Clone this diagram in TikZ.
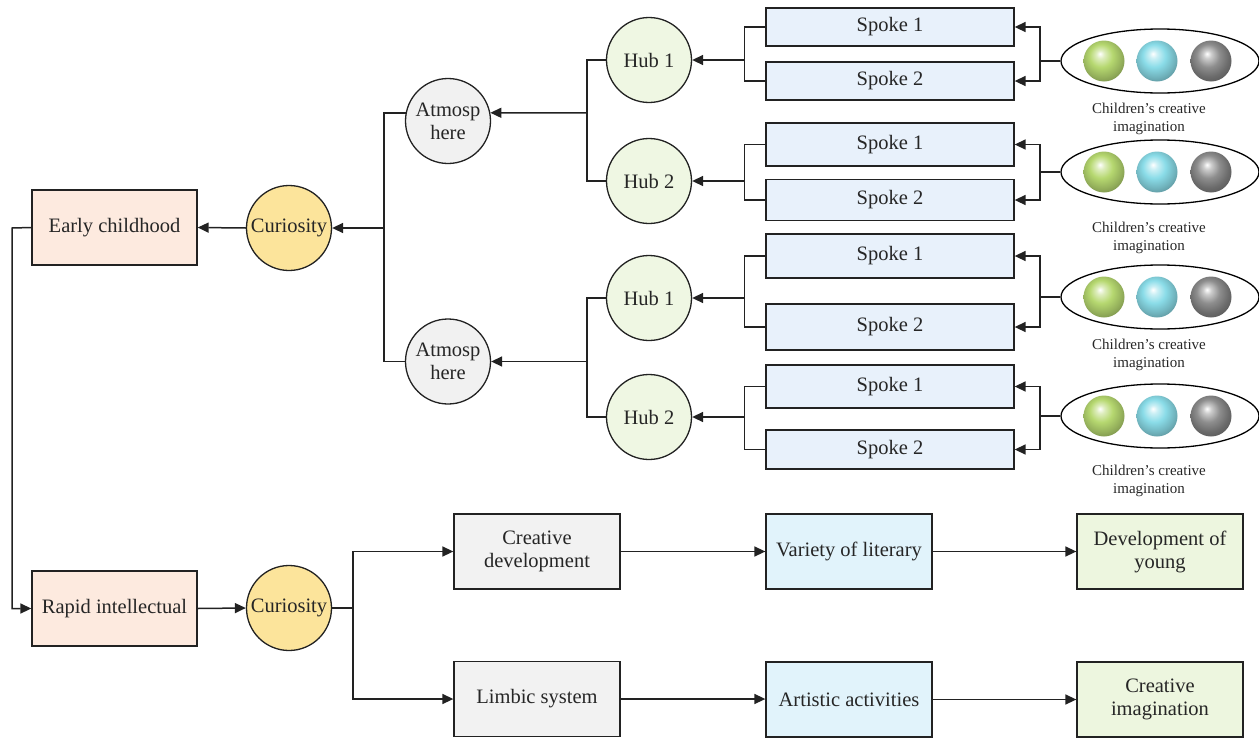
\documentclass[tikz,border=0pt]{standalone}
\usepackage{fontspec}
\setmainfont{Liberation Serif}
\usetikzlibrary{arrows.meta,shapes.geometric,calc}
\definecolor{peach}{HTML}{FDEADF}
\definecolor{curfill}{HTML}{FCE49B}
\definecolor{atmfill}{HTML}{F1F1F1}
\definecolor{hubfill}{HTML}{EFF7E3}
\definecolor{spokefill}{HTML}{E8F1FB}
\definecolor{grayfill}{HTML}{F2F2F2}
\definecolor{cyanfill}{HTML}{E1F3FB}
\definecolor{greenfill}{HTML}{EDF6DF}
\definecolor{linecol}{HTML}{222222}
\definecolor{ballg}{HTML}{B6D870}
\definecolor{ballc}{HTML}{8ADCE8}
\definecolor{ballk}{HTML}{8E8E8E}
\pgfdeclareradialshading{gball}{\pgfpoint{-5bp}{9bp}}{color(0bp)=(white);color(5bp)=(ballg!45!white);color(14bp)=(ballg);color(24bp)=(ballg!82!black);color(30bp)=(ballg!70!black);color(50bp)=(ballg!70!black)}
\pgfdeclareradialshading{cball}{\pgfpoint{-5bp}{9bp}}{color(0bp)=(white);color(5bp)=(ballc!45!white);color(14bp)=(ballc);color(24bp)=(ballc!82!black);color(30bp)=(ballc!70!black);color(50bp)=(ballc!70!black)}
\pgfdeclareradialshading{kball}{\pgfpoint{-5bp}{9bp}}{color(0bp)=(white);color(5bp)=(ballk!45!white);color(14bp)=(ballk);color(24bp)=(ballk!75!black);color(30bp)=(ballk!65!black);color(50bp)=(ballk!65!black)}
\begin{document}
\begin{tikzpicture}[x=1pt,y=-1pt,
  ln/.style={draw=linecol, line width=1.5pt},
  arr/.style={ln, -{Triangle[length=11pt,width=10pt]}},
  box/.style={draw=linecol, line width=1.3pt, rectangle, minimum width=165pt, minimum height=75pt, align=center, font=\fontsize{20.5}{23}\selectfont, inner sep=1pt, text=black!85},
  spoke/.style={box, minimum width=248pt, fill=spokefill},
  circ/.style={circle, draw=linecol, line width=1.3pt, minimum size=85pt, inner sep=0pt, align=center, font=\fontsize{20.5}{23}\selectfont, text=black!85},
  grp/.style={ellipse, draw=black, line width=1.3pt, minimum width=198pt, minimum height=64pt, inner sep=0pt},
  lab/.style={align=center, font=\fontsize{15}{18.5}\selectfont, text=black!85},
  ball/.style={circle, minimum size=41pt, inner sep=0pt, draw=none}
]
\useasboundingbox (0,0) rectangle (1259,739);

% upper tree
\node[box, fill=peach] (early) at (114.5,227.5) {Early childhood};
\node[circ, fill=curfill] (cur1) at (289,228) {Curiosity};
\node[circ, fill=atmfill] (atm1) at (448,121) {Atmosp\\here};
\node[circ, fill=atmfill] (atm2) at (448,361.5) {Atmosp\\here};
\node[circ, fill=hubfill] (h11) at (649,60) {Hub 1};
\node[circ, fill=hubfill] (h12) at (649,181) {Hub 2};
\node[circ, fill=hubfill] (h21) at (649,298) {Hub 1};
\node[circ, fill=hubfill] (h22) at (649,417) {Hub 2};

\node[spoke, minimum height=38pt] (s111) at (890,27) {Spoke 1};
\node[spoke, minimum height=38pt] (s112) at (890,81) {Spoke 2};
\node[spoke, minimum height=43pt] (s121) at (890,144.5) {Spoke 1};
\node[spoke, minimum height=41pt] (s122) at (890,200) {Spoke 2};
\node[spoke, minimum height=44pt] (s211) at (890,256) {Spoke 1};
\node[spoke, minimum height=46pt] (s212) at (890,327) {Spoke 2};
\node[spoke, minimum height=43pt] (s221) at (890,386.5) {Spoke 1};
\node[spoke, minimum height=39pt] (s222) at (890,449.5) {Spoke 2};

% groups with balls
\foreach \g/\yy/\ly in {g1/61/110, g2/172/229, g3/297/346, g4/416/472}{
  \node[grp] (\g) at (1160,\yy) {};
  \node[ball, shading=gball] (\g a) at (1104,\yy) {};
  \node[ball, shading=cball] (\g b) at (1157,\yy) {};
  \node[ball, shading=kball] (\g c) at (1211,\yy) {};
  \node[lab] (\g l) at (1149,\ly+9) {Children’s creative\\imagination};
}

% junction coordinates
\coordinate (j0) at (384,228);
\coordinate (ja1) at (587,113);
\coordinate (ja2) at (587,361.5);
\coordinate (jh11) at (745,60);
\coordinate (jh12) at (745,181);
\coordinate (jh21) at (745,298);
\coordinate (jh22) at (745,417);
\coordinate (jg1) at (1040,61);
\coordinate (jg2) at (1040,172);
\coordinate (jg3) at (1040,297);
\coordinate (jg4) at (1040,416);

% connectors upper
\draw[arr] (cur1.west) -- (early.east);
\draw[arr] (j0) -- (cur1.east);
\draw[ln] (atm1.169) -| (j0) |- (atm2.west);
\draw[arr] (ja1) -- (atm1.11);
\draw[arr] (ja2) -- (atm2.east);
\draw[ln] (h11.west) -| (ja1) |- (h12.west);
\draw[ln] (h21.west) -| (ja2) |- (h22.west);

\foreach \h/\a/\b/\g/\k in {h11/s111/s112/g1/1, h12/s121/s122/g2/2, h21/s211/s212/g3/3, h22/s221/s222/g4/4}{
  \draw[ln] (\a.west) -- ++(-21,0) |- (\b.west);
  \draw[ln] (\g.west) -- (jg\k);
  \draw[arr] (jg\k) |- (\a.east);
  \draw[arr] (jg\k) |- (\b.east);
}
\draw[arr] (jh11) -- (h11.east);
\draw[arr] (jh12) -- (h12.east);
\draw[arr] (jh21) -- (h21.east);
\draw[arr] (jh22) -- (h22.east);

% lower part
\node[box, fill=peach] (rapid) at (114.5,608.5) {Rapid intellectual};
\node[circ, fill=curfill] (cur2) at (289,608) {Curiosity};
\node[box, fill=grayfill, minimum width=166pt] (cdev) at (537,551.5) {Creative\\development};
\node[box, fill=grayfill, minimum width=166pt] (limb) at (537,699) {Limbic system};
\node[box, fill=cyanfill, minimum width=166pt] (var) at (849,551.5) {Variety of literary};
\node[box, fill=cyanfill, minimum width=166pt] (art) at (849,699.5) {Artistic activities};
\node[box, fill=greenfill, minimum width=166pt] (devy) at (1160,551.5) {Development of\\young};
\node[box, fill=greenfill, minimum width=166pt] (cimg) at (1160,699.5) {Creative\\imagination};

\coordinate (jl) at (12,228);
\coordinate (jc) at (353,608);

\draw[arr] (early.west) -- (jl) |- (rapid.west);
\draw[arr] (rapid.east) -- (cur2.west);
\draw[ln] (cur2.east) -- (jc);
\draw[arr] (jc) |- (cdev.west);
\draw[arr] (jc) |- (limb.west);
\draw[arr] (cdev.east) -- (var.west);
\draw[arr] (limb.east) -- (limb.east -| art.west);
\draw[arr] (var.east) -- (devy.west);
\draw[arr] (art.east) -- (cimg.west);
\end{tikzpicture}
\end{document}
